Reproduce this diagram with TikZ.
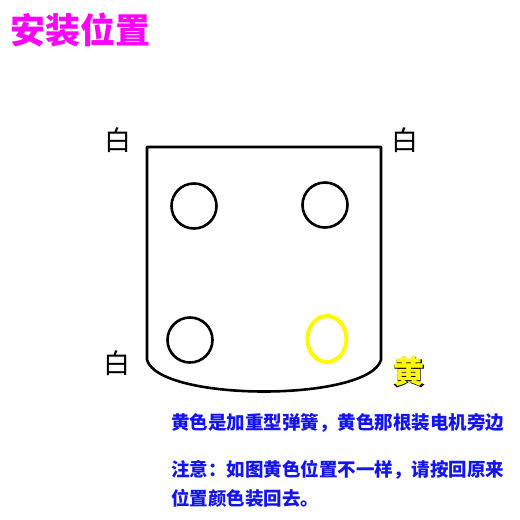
\documentclass[tikz,border=0pt]{standalone}
\usepackage{fontspec}
\newfontfamily\cjk{Noto Sans CJK SC}
\newfontfamily\cjkfat{Noto Sans CJK SC}[FakeBold=6]
\definecolor{mag}{RGB}{255,0,255}
\definecolor{blu}{RGB}{20,20,240}
\definecolor{yel}{RGB}{255,250,0}
\tikzset{
  hole/.style={draw=black,line width=2.6pt},
  lab/.style={inner sep=0pt,font=\cjk\fontsize{27}{27}\selectfont},
  note/.style={inner sep=0pt,anchor=west,text=blu,font=\cjk\bfseries\fontsize{18.5}{18.5}\selectfont},
}
\begin{document}
\begin{tikzpicture}[x=1pt,y=-1pt]
\useasboundingbox[fill=white] (0,0) rectangle (520,520);
\node[inner sep=0pt,anchor=west,text=mag,font=\cjk\bfseries\fontsize{35}{35}\selectfont] (title) at (10,30) {安装位置};
\draw[line width=2.6pt,line join=round] (147,147) -- (381,147) -- (381,360)
  .. controls (368,402) and (160,402) .. (147,360) -- cycle;
\node[hole,circle,minimum size=45pt,inner sep=0pt] (h1) at (194,206) {};
\node[hole,circle,minimum size=45pt,inner sep=0pt] (h2) at (325,205) {};
\node[hole,circle,minimum size=45pt,inner sep=0pt] (h3) at (190,340) {};
\draw[draw=yel,line width=4pt] (327,339) ellipse [x radius=19.5, y radius=23];
\node[lab] (w1) at (118,140) {白};
\node[lab] (w2) at (405,140) {白};
\node[lab] (w3) at (117,363) {白};
\node[inner sep=0pt,font=\cjkfat\fontsize{31}{31}\selectfont] (ybg) at (409,372) {黄};
\node[inner sep=0pt,text=yel,font=\cjk\bfseries\fontsize{31}{31}\selectfont] (y) at (409,372) {黄};
\node[note] (n1) at (171,423) {黄色是加重型弹簧，黄色那根装电机旁边};
\node[note] (n2) at (171,470) {注意：如图黄色位置不一样，请按回原来};
\node[note] (n3) at (171,498) {位置颜色装回去。};
\end{tikzpicture}
\end{document}
